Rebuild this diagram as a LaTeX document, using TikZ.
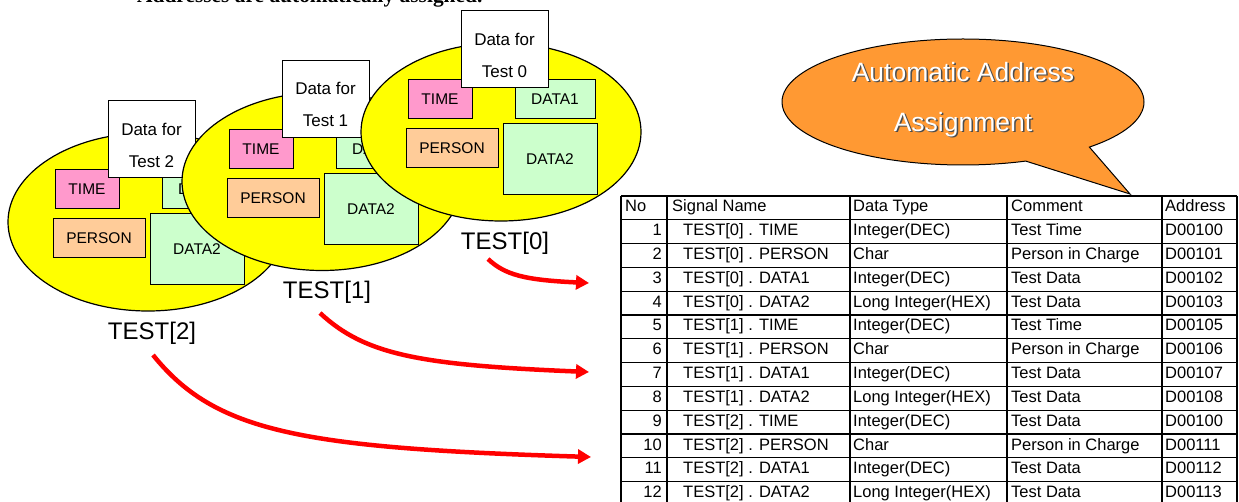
\documentclass[tikz,border=0pt]{standalone}
\usepackage{fontspec}
\setmainfont{Liberation Sans}
\newfontfamily\headfont{Liberation Serif}
\usetikzlibrary{positioning}
\usetikzlibrary{shapes.geometric,shapes.callouts}
\usetikzlibrary{arrows.meta}

\definecolor{blobyellow}{RGB}{255,255,0}
\definecolor{timepink}{RGB}{255,153,204}
\definecolor{personorange}{RGB}{255,204,153}
\definecolor{datagreen}{RGB}{204,255,204}
\definecolor{bubbleorange}{RGB}{255,153,51}

\tikzset{
  blob/.style={ellipse, draw, fill=blobyellow, line width=1.2pt, minimum width=280pt, minimum height=178pt, inner sep=0pt},
  field/.style={rectangle, draw, line width=1pt, inner sep=0pt, font=\fontsize{15.5}{18}\selectfont},
  timebox/.style={field, fill=timepink, minimum width=64pt, minimum height=39pt},
  personbox/.style={field, fill=personorange, minimum width=92pt, minimum height=39pt},
  dataabox/.style={field, fill=datagreen, minimum width=80pt, minimum height=39pt},
  databbox/.style={field, fill=datagreen, minimum width=94pt, minimum height=71pt},
  memo/.style={field, fill=white, minimum width=87pt, minimum height=77pt, align=center, font=\fontsize{17}{32}\selectfont},
  tname/.style={inner sep=0pt, font=\fontsize{24}{28}\selectfont},
  cell/.style={anchor=base west, inner sep=0pt, font=\fontsize{16.5}{20}\selectfont},
  numcell/.style={cell, anchor=base east},
  gridline/.style={line width=1.3pt},
  maparrow/.style={draw=red, line width=4.5pt, -{Triangle[length=13pt,width=14pt]}},
  bubble/.style={ellipse callout, draw, fill=bubbleorange, line width=1pt, minimum width=362pt, minimum height=126pt, callout pointer arc=24},
  bubtext/.style={inner sep=0pt, align=center, font=\fontsize{26.5}{50}\selectfont}
}

\begin{document}
\begin{tikzpicture}[x=1pt, y=-1pt]
            \useasboundingbox (0,0) rectangle (1239,502);

            % heading, cut off at the top
            \node[anchor=base west, inner sep=0pt, font=\headfont\bfseries\fontsize{21.4}{24}\selectfont] (title) at (137,3) {Addresses are automatically assigned.};

            % TEST[2]
            \begin{scope}[shift={(148,222)}]
                \node[blob] (el2) at (0,0) {};
                \node[timebox] (time2) at (-61,-32.5) {TIME};
                \node[dataabox] (dataa2) at (54,-32.5) {DATA1};
                \node[personbox] (person2) at (-49,16.5) {PERSON};
                \node[databbox] (datab2) at (49,27.5) {DATA2};
                \node[memo] (memo2) at (3.5,-82.5) {\rule{0pt}{24pt}Data for\\Test 2};
                \node[tname] (lbl2) at (4,111) {TEST[2]};
            \end{scope}

            % TEST[1]
            \begin{scope}[shift={(322,181.5)}]
                \node[blob] (el1) at (0,0) {};
                \node[timebox] (time1) at (-61,-32.5) {TIME};
                \node[dataabox] (dataa1) at (54,-32.5) {DATA1};
                \node[personbox] (person1) at (-49,16.5) {PERSON};
                \node[databbox] (datab1) at (49,27.5) {DATA2};
                \node[memo] (memo1) at (3.5,-82.5) {\rule{0pt}{24pt}Data for\\Test 1};
                \node[tname] (lbl1) at (5,110.5) {TEST[1]};
            \end{scope}

            % TEST[0]
            \begin{scope}[shift={(501,132)}]
                \node[blob] (el0) at (0,0) {};
                \node[timebox] (time0) at (-61,-32.5) {TIME};
                \node[dataabox] (dataa0) at (54,-32.5) {DATA1};
                \node[personbox] (person0) at (-49,16.5) {PERSON};
                \node[databbox] (datab0) at (49,27.5) {DATA2};
                \node[memo] (memo0) at (3.5,-82.5) {\rule{0pt}{24pt}Data for\\Test 0};
                \node[tname] (lbl0) at (4,111) {TEST[0]};
            \end{scope}

            % speech bubble
            \coordinate (tip) at (1130,194);
            \node[bubble, callout absolute pointer={(tip)}] (bub) at (963,102) {};
            \node[bubtext, text=black!70] (bubshade) at (964.5,101) {Automatic Address\\Assignment};
            \node[bubtext, text=white] (btxt) at (963,99.5) {Automatic Address\\Assignment};

            % table rules
            \draw[gridline] (621,196) -- (1237,196);
            \draw[gridline] (621,219.8) -- (1237,219.8);
            \draw[gridline] (621,243.6) -- (1237,243.6);
            \draw[gridline] (621,267.4) -- (1237,267.4);
            \draw[gridline] (621,291.2) -- (1237,291.2);
            \draw[gridline] (621,315) -- (1237,315);
            \draw[gridline] (621,338.8) -- (1237,338.8);
            \draw[gridline] (621,362.6) -- (1237,362.6);
            \draw[gridline] (621,386.4) -- (1237,386.4);
            \draw[gridline] (621,410.2) -- (1237,410.2);
            \draw[gridline] (621,434) -- (1237,434);
            \draw[gridline] (621,457.8) -- (1237,457.8);
            \draw[gridline] (621,481.6) -- (1237,481.6);
            \draw[gridline] (621,505.4) -- (1237,505.4);
            \draw[gridline] (621,196) -- (621,506);
            \draw[gridline] (667,196) -- (667,506);
            \draw[gridline] (850,196) -- (850,506);
            \draw[gridline] (1007,196) -- (1007,506);
            \draw[gridline] (1162,196) -- (1162,506);
            \draw[gridline] (1237,196) -- (1237,506);

            % table text
            \node[cell] (hno) at (625,212) {No}; \node[cell] (hname) at (672,212) {Signal Name}; \node[cell] (htype) at (853,212) {Data Type}; \node[cell] (hcom) at (1011,212) {Comment}; \node[cell] (haddr) at (1165,212) {Address};
            \node[numcell] (no1) at (662,235.8) {1}; \node[cell] (sig1) at (683,235.8) {TEST[0] . TIME}; \node[cell] (typ1) at (853,235.8) {Integer(DEC)}; \node[cell] (com1) at (1011,235.8) {Test Time}; \node[cell] (adr1) at (1165,235.8) {D00100};
            \node[numcell] (no2) at (662,259.6) {2}; \node[cell] (sig2) at (683,259.6) {TEST[0] . PERSON}; \node[cell] (typ2) at (853,259.6) {Char}; \node[cell] (com2) at (1011,259.6) {Person in Charge}; \node[cell] (adr2) at (1165,259.6) {D00101};
            \node[numcell] (no3) at (662,283.4) {3}; \node[cell] (sig3) at (683,283.4) {TEST[0] . DATA1}; \node[cell] (typ3) at (853,283.4) {Integer(DEC)}; \node[cell] (com3) at (1011,283.4) {Test Data}; \node[cell] (adr3) at (1165,283.4) {D00102};
            \node[numcell] (no4) at (662,307.2) {4}; \node[cell] (sig4) at (683,307.2) {TEST[0] . DATA2}; \node[cell] (typ4) at (853,307.2) {Long Integer(HEX)}; \node[cell] (com4) at (1011,307.2) {Test Data}; \node[cell] (adr4) at (1165,307.2) {D00103};
            \node[numcell] (no5) at (662,331) {5}; \node[cell] (sig5) at (683,331) {TEST[1] . TIME}; \node[cell] (typ5) at (853,331) {Integer(DEC)}; \node[cell] (com5) at (1011,331) {Test Time}; \node[cell] (adr5) at (1165,331) {D00105};
            \node[numcell] (no6) at (662,354.8) {6}; \node[cell] (sig6) at (683,354.8) {TEST[1] . PERSON}; \node[cell] (typ6) at (853,354.8) {Char}; \node[cell] (com6) at (1011,354.8) {Person in Charge}; \node[cell] (adr6) at (1165,354.8) {D00106};
            \node[numcell] (no7) at (662,378.6) {7}; \node[cell] (sig7) at (683,378.6) {TEST[1] . DATA1}; \node[cell] (typ7) at (853,378.6) {Integer(DEC)}; \node[cell] (com7) at (1011,378.6) {Test Data}; \node[cell] (adr7) at (1165,378.6) {D00107};
            \node[numcell] (no8) at (662,402.4) {8}; \node[cell] (sig8) at (683,402.4) {TEST[1] . DATA2}; \node[cell] (typ8) at (853,402.4) {Long Integer(HEX)}; \node[cell] (com8) at (1011,402.4) {Test Data}; \node[cell] (adr8) at (1165,402.4) {D00108};
            \node[numcell] (no9) at (662,426.2) {9}; \node[cell] (sig9) at (683,426.2) {TEST[2] . TIME}; \node[cell] (typ9) at (853,426.2) {Integer(DEC)}; \node[cell] (com9) at (1011,426.2) {Test Data}; \node[cell] (adr9) at (1165,426.2) {D00100};
            \node[numcell] (no10) at (662,450) {10}; \node[cell] (sig10) at (683,450) {TEST[2] . PERSON}; \node[cell] (typ10) at (853,450) {Char}; \node[cell] (com10) at (1011,450) {Person in Charge}; \node[cell] (adr10) at (1165,450) {D00111};
            \node[numcell] (no11) at (662,473.8) {11}; \node[cell] (sig11) at (683,473.8) {TEST[2] . DATA1}; \node[cell] (typ11) at (853,473.8) {Integer(DEC)}; \node[cell] (com11) at (1011,473.8) {Test Data}; \node[cell] (adr11) at (1165,473.8) {D00112};
            \node[numcell] (no12) at (662,497.6) {12}; \node[cell] (sig12) at (683,497.6) {TEST[2] . DATA2}; \node[cell] (typ12) at (853,497.6) {Long Integer(HEX)}; \node[cell] (com12) at (1011,497.6) {Test Data}; \node[cell] (adr12) at (1165,497.6) {D00113};

            % red arrows into the table
            \coordinate (a0s) at (488,259);
            \coordinate (a0e) at (589,283);
            \coordinate (a1s) at (320,313);
            \coordinate (a1e) at (589,372);
            \coordinate (a2s) at (153,355);
            \coordinate (a2e) at (591,457);
            \draw[maparrow] (a0s) .. controls (505,275) and (525,280) .. (a0e);
            \draw[maparrow] (a1s) .. controls (365,355) and (420,365) .. (a1e);
            \draw[maparrow] (a2s) .. controls (215,432) and (300,448) .. (a2e);
        \end{tikzpicture}
\end{document}
